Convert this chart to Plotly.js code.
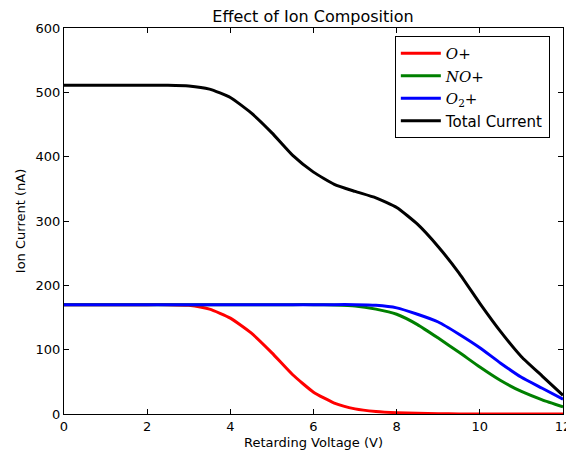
<!DOCTYPE html>
<html>
<head>
<meta charset="utf-8">
<script src="https://cdn.plot.ly/plotly-3.0.1.min.js"></script>
<style>html,body{margin:0;padding:0;background:#fff;}</style>
</head>
<body>
<div id="chart" style="width:566px;height:454px;"></div>
<script>
const voltage = [0,0.5,1,1.5,2,2.5,3,3.5,4,4.5,5,5.5,6,6.5,7,7.5,8,8.5,9,9.5,10,10.5,11,11.5,12];
const oPlus   = [170,170,170,170,170,170,169,163,149,126,95,61,34,17,8,4,2,1,0.5,0,0,0,0,0,0];
const noPlus  = [170,170,170,170,170,170,170,170,170,170,170,170,170,169.5,168,163,155,139,118,96,73,52,35,22,11];
const o2Plus  = [170,170,170,170,170,170,170,170,170,170,170,170,170,170,170,169,165,155,143,124,103,79,57,40,23];
const total   = [511,511,511,511,511,511,510,505,492,468,437,402,376,357,346,336,321,295,260,219,172,128,89,59,29];

const names = ['<span style="font-family:\'DejaVu Serif\'"><i>O</i>+</span>',
               '<span style="font-family:\'DejaVu Serif\'"><i>NO</i>+</span>',
               '<span style="font-family:\'DejaVu Serif\'"><i>O</i><sub>2</sub>+</span>',
               'Total Current'];
const series = [oPlus, noPlus, o2Plus, total];
const colors = ['#ff0000', '#008000', '#0000ff', '#000000'];

const traces = series.map((s, i) => ({
  x: voltage, y: s, name: names[i], type: 'scatter', mode: 'lines',
  line: {color: colors[i], width: 3, shape: 'spline', smoothing: 0.5},
  legendgroup: 'g' + i
}));

const axisCommon = {
  showline: true, linecolor: '#000', linewidth: 1, mirror: 'allticks',
  ticks: 'inside', ticklen: 5, tickcolor: '#000', showgrid: false, zeroline: false,
  ticklabeloverflow: 'allow',
  tickfont: {family: 'DejaVu Sans', size: 13, color: '#000'}
};

const layout = {
  width: 566, height: 454,
  margin: {l: 64, r: 3, t: 28, b: 40},
  paper_bgcolor: '#fff', plot_bgcolor: '#fff',
  font: {family: 'DejaVu Sans', color: '#000'},
  title: {text: 'Effect of Ion Composition', font: {family: 'DejaVu Sans', size: 16, color: '#000'},
          x: 0.553, xanchor: 'center', y: 0.963, yanchor: 'middle', yref: 'container'},
  xaxis: Object.assign({}, axisCommon, {range: [0, 12], dtick: 2,
          title: {text: 'Retarding Voltage (V)', font: {size: 13}, standoff: 5}}),
  yaxis: Object.assign({}, axisCommon, {range: [0, 600], dtick: 100,
          title: {text: 'Ion Current (nA)', font: {size: 13}, standoff: 7}}),
  showlegend: true,
  legend: {x: 0.663, xanchor: 'left', y: 0.979, yanchor: 'top', bordercolor: '#000', borderwidth: 1,
           bgcolor: '#fff', font: {family: 'DejaVu Sans', size: 15, color: '#000'},
           tracegroupgap: 7, itemwidth: 40, traceorder: 'normal'}
};

Plotly.newPlot('chart', traces, layout, {displayModeBar: false, staticPlot: true});
</script>
</body>
</html>
